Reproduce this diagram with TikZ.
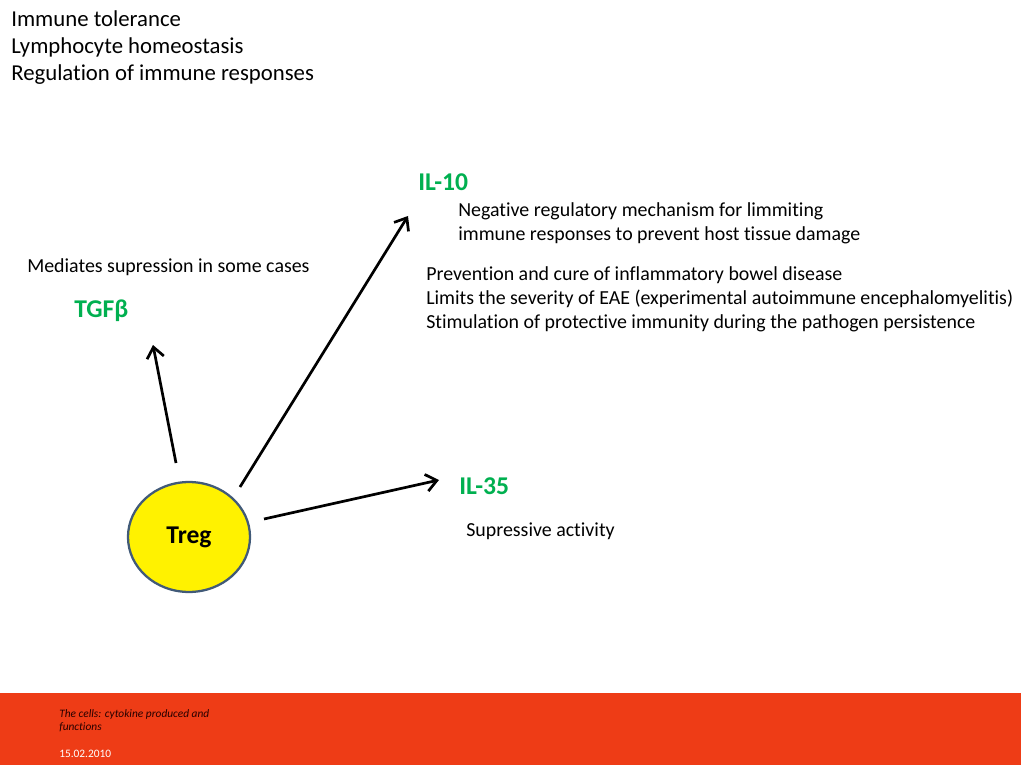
\documentclass[tikz,border=0pt]{standalone}
\usepackage{fontspec}
\setmainfont{Carlito}[Ligatures=NoCommon]
\usetikzlibrary{arrows.meta,shapes.geometric}
\definecolor{tgreen}{RGB}{0,176,80}
\definecolor{foot}{RGB}{238,60,22}
\definecolor{cellborder}{RGB}{65,90,120}
\tikzset{
  txt/.style={anchor=west,inner sep=0pt,align=left,font=\fontsize{14}{17}\selectfont},
  bigtxt/.style={anchor=west,inner sep=0pt,align=left,font=\fontsize{16}{19}\selectfont},
  cyto/.style={anchor=west,inner sep=0pt,text=tgreen,font=\fontsize{18}{21}\selectfont\bfseries},
  arr/.style={line width=1.9pt,-{Straight Barb[length=7.5pt,width=12pt,line width=1.9pt]}},
  foottxt/.style={anchor=west,inner sep=0pt,align=left,font=\fontsize{8}{9.2}\selectfont\itshape,text=black!85!red},
  cell/.style={ellipse,draw=cellborder,line width=1.6pt,fill=yellow,minimum width=85.8pt,minimum height=77.3pt,inner sep=0pt,font=\fontsize{18}{21}\selectfont\bfseries},
}
\begin{document}
\begin{tikzpicture}[x=0.703125pt,y=-0.703125pt]
\useasboundingbox (0,0) rectangle (1024,768);
\fill[white] (0,0) rectangle (1024,768);
% footer
\fill[foot] (0,693) rectangle (1021,765);
\node[foottxt] (ft) at (59,721) {The cells: cytokine produced and\\functions};
\node[anchor=west,inner sep=0pt,font=\fontsize{8}{9}\selectfont,text=white] (date) at (59,754) {15.02.2010};
% top text
\node[bigtxt] (top) at (11,48) {Immune tolerance\\Lymphocyte homeostasis\\Regulation of immune responses};
% cytokines
\node[cyto] (il10) at (418,182) {IL-10};
\node[txt] (il10a) at (458,223) {Negative regulatory mechanism for limmiting\\immune responses to prevent host tissue damage};
\node[txt] (il10b) at (426,299) {Prevention and cure of inflammatory bowel disease\\Limits the severity of EAE (experimental autoimmune encephalomyelitis)\\Stimulation of protective immunity during the pathogen persistence};
\node[txt] (tgfa) at (27,267) {Mediates supression in some cases};
\node[cyto] (tgf) at (74,311) {TGFβ};
\node[cyto] (il35) at (459,486) {IL-35};
\node[txt] (il35a) at (466,531) {Supressive activity};
% Treg
\node[cell] (treg) at (189,537) {Treg};
% arrows
\coordinate (s1) at (176,463);
\coordinate (e1) at (153,345);
\coordinate (s2) at (240,487);
\coordinate (e2) at (408,216);
\coordinate (s3) at (264,519);
\coordinate (e3) at (439,480);
\draw[arr] (s1) -- (e1);
\draw[arr] (s2) -- (e2);
\draw[arr] (s3) -- (e3);
\end{tikzpicture}
\end{document}
